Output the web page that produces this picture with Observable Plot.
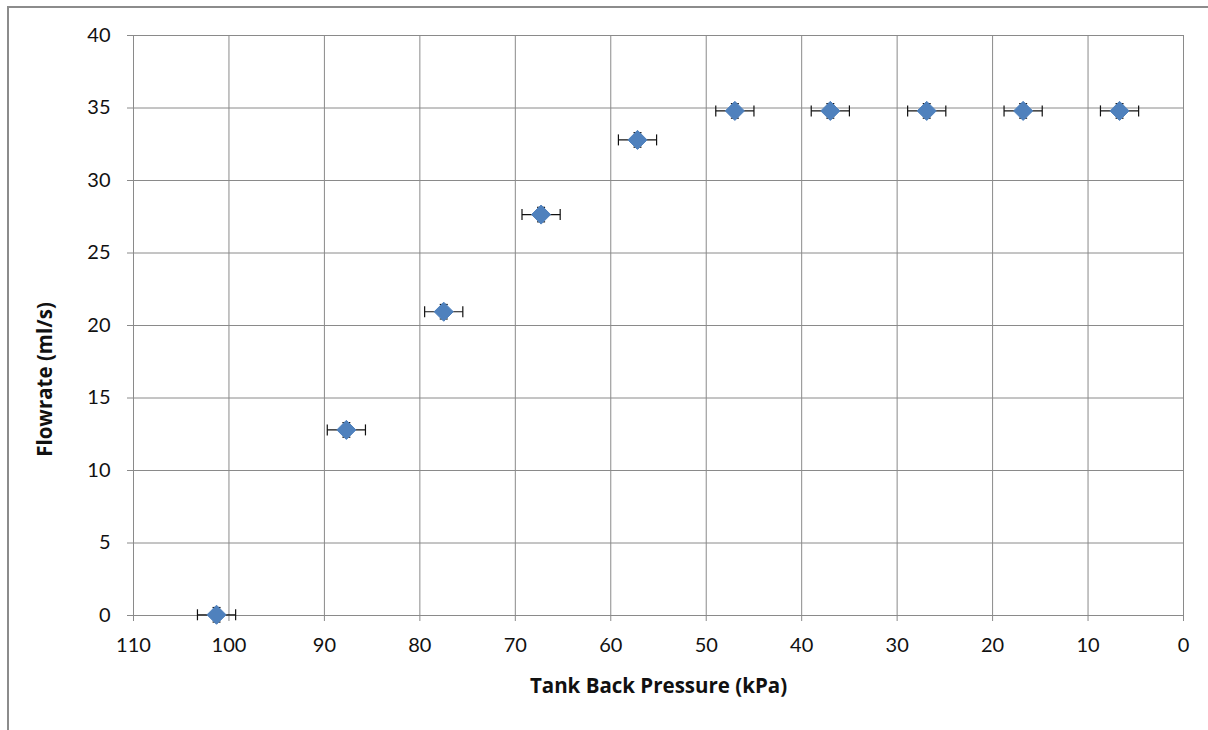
<!DOCTYPE html>
<html>
<head>
<meta charset="utf-8">
<script src="https://cdn.jsdelivr.net/npm/d3@7"></script>
<script src="https://cdn.jsdelivr.net/npm/@observablehq/plot@0.6"></script>
<style>
  html, body { margin: 0; padding: 0; background: #fff; }
  #frame { position: absolute; left: 7px; top: 6px; width: 1220px; height: 740px; border: 2px solid #8c8c8c; box-sizing: border-box; }
  #chart { position: absolute; left: 0; top: 0; }
</style>
</head>
<body>
<div id="frame"></div>
<div id="chart"></div>
<script>
const pressure = [101.3, 87.7, 77.5, 67.3, 57.2, 47.0, 37.0, 26.9, 16.8, 6.7];
const flowrate = [0.05, 12.8, 20.95, 27.65, 32.8, 34.8, 34.8, 34.8, 34.8, 34.8];
const pressureErr = [2, 2, 2, 2, 2, 2, 2, 2, 2, 2];
const flowErr = [0.5, 0.5, 0.5, 0.5, 0.5, 0.5, 0.5, 0.5, 0.5, 0.5];
const xTicks = [0, 10, 20, 30, 40, 50, 60, 70, 80, 90, 100, 110];
const yTicks = [0, 5, 10, 15, 20, 25, 30, 35, 40];
const xLabel = "Tank Back Pressure (kPa)";
const yLabel = "Flowrate (ml/s)";

const data = pressure.map((p, i) => ({x: p, y: flowrate[i], ex: pressureErr[i], ey: flowErr[i]}));

const vCap = {draw(ctx, size) { const h = 5.5; ctx.moveTo(0, -h); ctx.lineTo(0, h); }};
const hCap = {draw(ctx, size) { const h = 4; ctx.moveTo(-h, 0); ctx.lineTo(h, 0); }};

const gray = "#8a8a8a";
const chart = Plot.plot({
  width: 1208,
  height: 730,
  marginLeft: 133,
  marginRight: 25,
  marginTop: 35,
  marginBottom: 115,
  style: {fontFamily: "Lato, 'Open Sans', sans-serif", fontSize: "20px", color: "#111", background: "transparent"},
  x: {domain: [110, 0], ticks: xTicks, tickFormat: d => String(d)},
  y: {domain: [0, 40], ticks: yTicks, tickFormat: d => String(d)},
  marks: [
    Plot.gridX(xTicks, {stroke: gray, strokeOpacity: 1, strokeWidth: 1}),
    Plot.gridY(yTicks, {stroke: gray, strokeOpacity: 1, strokeWidth: 1}),
    Plot.axisX(xTicks, {tickSize: 6, stroke: gray, tickPadding: 16, fontSize: 20, fill: "#111", label: null}),
    Plot.axisY(yTicks, {tickSize: 6, stroke: gray, tickPadding: 17, fontSize: 20, fill: "#111", label: null}),
    Plot.text([xLabel], {frameAnchor: "bottom", dy: 77, fontFamily: "'Open Sans', sans-serif", fontWeight: "bold", fontSize: 20.5, fill: "#111", text: d => d}),
    Plot.text([yLabel], {frameAnchor: "left", dx: -88, dy: 54, rotate: -90, textAnchor: "middle", fontFamily: "'Open Sans', sans-serif", fontWeight: "bold", fontSize: 20.5, fill: "#111", text: d => d}),
    // horizontal error bars
    Plot.link(data, {x1: d => d.x - d.ex, x2: d => d.x + d.ex, y1: "y", y2: "y", stroke: "#111", strokeWidth: 1.2}),
    Plot.dot(data, {x: d => d.x - d.ex, y: "y", symbol: vCap, stroke: "#111", strokeWidth: 1.2, r: 5}),
    Plot.dot(data, {x: d => d.x + d.ex, y: "y", symbol: vCap, stroke: "#111", strokeWidth: 1.2, r: 5}),
    // vertical error bars
    Plot.link(data, {x1: "x", x2: "x", y1: d => d.y - d.ey, y2: d => d.y + d.ey, stroke: "#111", strokeWidth: 1.2}),
    Plot.dot(data, {x: "x", y: d => d.y + d.ey, symbol: hCap, stroke: "#111", strokeWidth: 1.2, r: 5}),
    Plot.dot(data, {x: "x", y: d => d.y - d.ey, symbol: hCap, stroke: "#111", strokeWidth: 1.2, r: 5}),
    Plot.dot(data, {x: "x", y: "y", symbol: "diamond2", r: 8.6, fill: "#4f81bd", stroke: "#4f81bd", strokeWidth: 1})
  ]
});
document.getElementById("chart").appendChild(chart);
</script>
</body>
</html>
